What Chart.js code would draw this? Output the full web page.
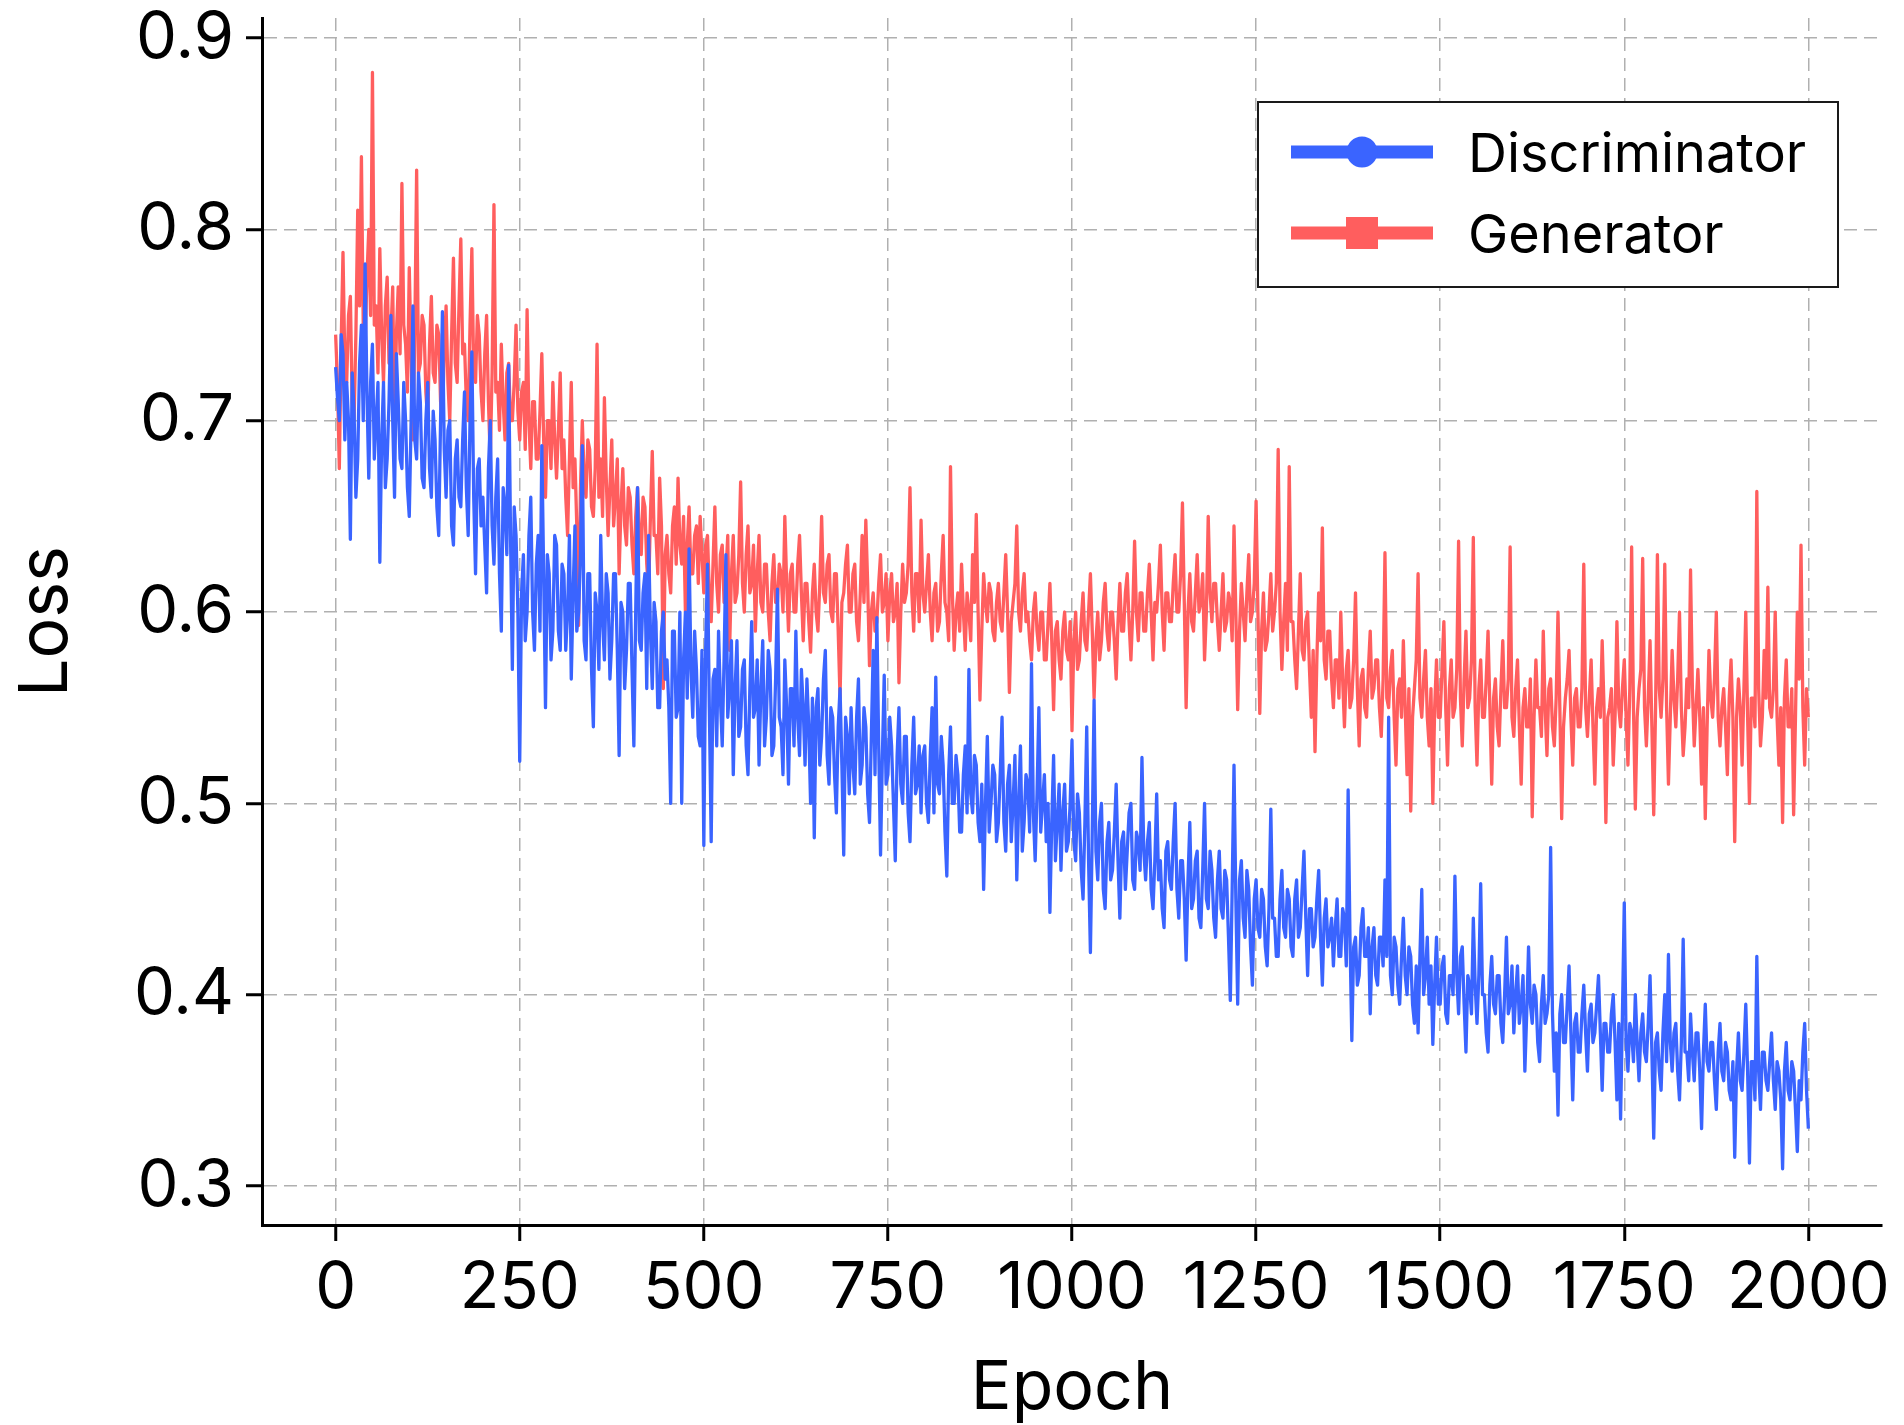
<!DOCTYPE html>
<html>
<head>
<meta charset="utf-8">
<title>Loss</title>
<script src="https://cdn.jsdelivr.net/npm/chart.js@4.4.1/dist/chart.umd.min.js"></script>
<style>
	html, body { margin: 0; padding: 0; background: #fff; }
	#wrap { width: 1904px; height: 1425px; }
</style>
</head>
<body>
<div id="wrap"><canvas id="lossChart" width="1904" height="1425"></canvas></div>
<script>
const epochStep = 2.5;

const discLoss = [
	0.728,0.712, 0.70,0.745, 0.735,0.69, 0.72,0.70, 0.638,0.725, 0.705,0.66, 0.68,0.73, 0.75,0.70, 0.782,0.715, 0.67,0.72,
	0.74,0.68, 0.70,0.72, 0.626,0.69, 0.72,0.665, 0.68,0.71, 0.755,0.70, 0.66,0.735, 0.71,0.68, 0.675,0.72, 0.70,0.665,
	0.65,0.70, 0.76,0.69, 0.68,0.725, 0.71,0.67, 0.665,0.70, 0.72,0.675, 0.66,0.705, 0.69,0.655, 0.64,0.70, 0.757,0.685,
	0.66,0.695, 0.70,0.645, 0.635,0.68, 0.69,0.66, 0.655,0.69, 0.715,0.665, 0.64,0.70, 0.736,0.66, 0.62,0.675, 0.68,0.645,
	0.66,0.635, 0.61,0.675, 0.70,0.645, 0.625,0.66, 0.68,0.62, 0.59,0.665, 0.655,0.63, 0.729,0.64, 0.57,0.655, 0.64,0.60,
	0.522,0.61, 0.63,0.585, 0.60,0.64, 0.66,0.60, 0.58,0.625, 0.64,0.59, 0.687,0.62, 0.55,0.63, 0.62,0.575, 0.59,0.64,
	0.635,0.59, 0.58,0.625, 0.62,0.58, 0.60,0.64, 0.565,0.61, 0.645,0.59, 0.60,0.63, 0.687,0.585, 0.575,0.62, 0.62,0.57,
	0.54,0.61, 0.60,0.57, 0.64,0.595, 0.575,0.62, 0.61,0.565, 0.585,0.62, 0.62,0.58, 0.525,0.605, 0.60,0.56, 0.58,0.615,
	0.615,0.57, 0.53,0.60, 0.665,0.585, 0.58,0.61, 0.62,0.56, 0.64,0.59, 0.56,0.605, 0.595,0.55, 0.55,0.59, 0.60,0.565,
	0.575,0.55, 0.50,0.59, 0.59,0.545, 0.55,0.60, 0.50,0.575, 0.60,0.555, 0.633,0.57, 0.545,0.59, 0.57,0.535, 0.53,0.58,
	0.478,0.58, 0.625,0.55, 0.48,0.565, 0.57,0.53, 0.59,0.555, 0.53,0.575, 0.63,0.545, 0.56,0.585, 0.515,0.56, 0.585,0.535,
	0.54,0.57, 0.575,0.53, 0.515,0.56, 0.595,0.545, 0.55,0.575, 0.52,0.56, 0.585,0.53, 0.545,0.58, 0.57,0.525, 0.53,0.565,
	0.612,0.545, 0.54,0.515, 0.575,0.55, 0.51,0.56, 0.56,0.53, 0.59,0.545, 0.525,0.57, 0.55,0.52, 0.565,0.54, 0.50,0.555,
	0.482,0.55, 0.56,0.52, 0.535,0.565, 0.58,0.525, 0.51,0.55, 0.545,0.515, 0.495,0.54, 0.56,0.52, 0.473,0.545, 0.535,0.505,
	0.55,0.52, 0.505,0.545, 0.565,0.51, 0.52,0.55, 0.54,0.505, 0.49,0.535, 0.58,0.515, 0.597,0.53, 0.473,0.525, 0.567,0.51,
	0.515,0.545, 0.53,0.50, 0.47,0.525, 0.55,0.51, 0.50,0.535, 0.535,0.495, 0.48,0.52, 0.545,0.505, 0.51,0.53, 0.495,0.525,
	0.53,0.50, 0.49,0.525, 0.55,0.495, 0.566,0.51, 0.505,0.535, 0.52,0.485, 0.462,0.515, 0.54,0.50, 0.50,0.525, 0.515,0.485,
	0.485,0.515, 0.53,0.495, 0.57,0.505, 0.495,0.525, 0.52,0.49, 0.48,0.51, 0.455,0.50, 0.535,0.485, 0.50,0.52, 0.515,0.48,
	0.49,0.515, 0.545,0.49, 0.475,0.51, 0.52,0.48, 0.50,0.525, 0.46,0.50, 0.53,0.475, 0.49,0.515, 0.51,0.485, 0.573,0.495,
	0.47,0.505, 0.55,0.485, 0.50,0.515, 0.48,0.50, 0.443,0.49, 0.525,0.47, 0.49,0.51, 0.465,0.495, 0.51,0.475, 0.48,0.50,
	0.533,0.48, 0.47,0.505, 0.495,0.465, 0.45,0.49, 0.54,0.47, 0.422,0.485, 0.554,0.475, 0.46,0.49, 0.50,0.455, 0.445,0.48,
	0.49,0.46, 0.465,0.485, 0.51,0.47, 0.44,0.48, 0.485,0.455, 0.475,0.495, 0.50,0.46, 0.455,0.485, 0.48,0.465, 0.524,0.475,
	0.46,0.48, 0.49,0.455, 0.445,0.47, 0.505,0.46, 0.47,0.445, 0.435,0.475, 0.48,0.46, 0.455,0.48, 0.50,0.455, 0.44,0.47,
	0.47,0.45, 0.418,0.46, 0.49,0.445, 0.45,0.47, 0.475,0.44, 0.435,0.465, 0.50,0.45, 0.445,0.475, 0.465,0.44, 0.43,0.46,
	0.475,0.445, 0.44,0.465, 0.46,0.43, 0.397,0.455, 0.52,0.45, 0.395,0.46, 0.47,0.44, 0.43,0.465, 0.455,0.425, 0.405,0.45,
	0.46,0.435, 0.43,0.455, 0.45,0.425, 0.415,0.445, 0.497,0.44, 0.44,0.42, 0.42,0.45, 0.465,0.435, 0.43,0.455, 0.45,0.425,
	0.42,0.45, 0.46,0.43, 0.435,0.455, 0.475,0.44, 0.41,0.445, 0.445,0.425, 0.43,0.45, 0.465,0.43, 0.405,0.44, 0.45,0.425,
	0.43,0.44, 0.415,0.435, 0.45,0.42, 0.42,0.445, 0.44,0.415, 0.507,0.43, 0.376,0.425, 0.43,0.405, 0.41,0.435, 0.445,0.42,
	0.42,0.435, 0.39,0.425, 0.435,0.41, 0.405,0.43, 0.43,0.415, 0.46,0.42, 0.545,0.41, 0.40,0.43, 0.425,0.405, 0.395,0.42,
	0.44,0.41, 0.40,0.425, 0.42,0.395, 0.385,0.415, 0.38,0.42, 0.455,0.40, 0.41,0.43, 0.395,0.415, 0.374,0.405, 0.43,0.395,
	0.395,0.415, 0.42,0.39, 0.385,0.41, 0.41,0.40, 0.462,0.41, 0.39,0.42, 0.425,0.395, 0.37,0.41, 0.405,0.39, 0.44,0.405,
	0.385,0.41, 0.458,0.40, 0.40,0.38, 0.37,0.405, 0.42,0.395, 0.39,0.41, 0.41,0.385, 0.375,0.40, 0.43,0.39, 0.395,0.415,
	0.38,0.40, 0.415,0.385, 0.395,0.41, 0.36,0.39, 0.425,0.395, 0.385,0.405, 0.40,0.375, 0.365,0.395, 0.41,0.385, 0.39,0.40,
	0.477,0.39, 0.36,0.38, 0.337,0.39, 0.40,0.375, 0.375,0.395, 0.415,0.38, 0.345,0.385, 0.39,0.37, 0.37,0.39, 0.405,0.38,
	0.36,0.39, 0.395,0.375, 0.38,0.395, 0.41,0.38, 0.35,0.385, 0.385,0.37, 0.37,0.39, 0.40,0.375, 0.345,0.385, 0.335,0.39,
	0.448,0.375, 0.36,0.385, 0.38,0.365, 0.40,0.375, 0.355,0.38, 0.39,0.37, 0.365,0.385, 0.41,0.37, 0.325,0.375, 0.38,0.36,
	0.35,0.38, 0.40,0.365, 0.421,0.375, 0.36,0.38, 0.385,0.36, 0.345,0.375, 0.429,0.37, 0.37,0.355, 0.39,0.37, 0.355,0.38,
	0.38,0.36, 0.33,0.37, 0.395,0.365, 0.36,0.375, 0.375,0.355, 0.34,0.37, 0.385,0.36, 0.355,0.375, 0.37,0.35, 0.345,0.365,
	0.315,0.36, 0.38,0.355, 0.35,0.37, 0.395,0.36, 0.312,0.365, 0.365,0.345, 0.42,0.36, 0.34,0.37, 0.37,0.355, 0.35,0.365,
	0.38,0.355, 0.34,0.365, 0.36,0.345, 0.309,0.36, 0.375,0.35, 0.345,0.365, 0.36,0.34, 0.318,0.355, 0.345,0.37, 0.385,0.35,
	0.33
];

const genLoss = [
	0.745,0.72, 0.675,0.74, 0.788,0.73, 0.72,0.755, 0.765,0.71, 0.70,0.745, 0.81,0.76, 0.838,0.75, 0.74,0.775, 0.80,0.755,
	0.882,0.75, 0.76,0.725, 0.79,0.745, 0.72,0.76, 0.775,0.73, 0.745,0.77, 0.70,0.745, 0.77,0.735, 0.824,0.75, 0.74,0.715,
	0.78,0.735, 0.69,0.745, 0.831,0.725, 0.73,0.755, 0.75,0.715, 0.70,0.74, 0.765,0.725, 0.72,0.75, 0.745,0.71, 0.70,0.735,
	0.76,0.72, 0.70,0.745, 0.785,0.73, 0.72,0.76, 0.795,0.735, 0.74,0.71, 0.70,0.75, 0.79,0.725, 0.72,0.755, 0.745,0.715,
	0.70,0.735, 0.755,0.71, 0.68,0.725, 0.813,0.715, 0.72,0.695, 0.74,0.71, 0.69,0.725, 0.73,0.70, 0.70,0.72, 0.75,0.705,
	0.69,0.715, 0.72,0.685, 0.758,0.70, 0.675,0.71, 0.71,0.68, 0.68,0.705, 0.735,0.69, 0.66,0.70, 0.70,0.675, 0.72,0.69,
	0.67,0.695, 0.725,0.675, 0.69,0.66, 0.64,0.68, 0.72,0.665, 0.68,0.645, 0.593,0.665, 0.70,0.67, 0.66,0.69, 0.685,0.655,
	0.65,0.675, 0.74,0.66, 0.68,0.65, 0.712,0.67, 0.64,0.665, 0.69,0.645, 0.66,0.68, 0.62,0.655, 0.675,0.645, 0.635,0.665,
	0.66,0.635, 0.62,0.65, 0.665,0.64, 0.63,0.66, 0.655,0.625, 0.61,0.65, 0.684,0.64, 0.64,0.62, 0.67,0.645, 0.56,0.63,
	0.64,0.62, 0.61,0.645, 0.655,0.625, 0.67,0.635, 0.625,0.65, 0.60,0.635, 0.655,0.62, 0.62,0.64, 0.645,0.615, 0.65,0.63,
	0.61,0.635, 0.64,0.61, 0.595,0.625, 0.655,0.615, 0.60,0.63, 0.635,0.605, 0.62,0.64, 0.58,0.62, 0.64,0.605, 0.61,0.63,
	0.668,0.615, 0.60,0.63, 0.645,0.61, 0.615,0.635, 0.59,0.62, 0.64,0.605, 0.60,0.625, 0.625,0.60, 0.585,0.615, 0.63,0.605,
	0.605,0.625, 0.62,0.60, 0.65,0.615, 0.59,0.62, 0.625,0.60, 0.60,0.625, 0.64,0.61, 0.585,0.615, 0.615,0.595, 0.579,0.61,
	0.625,0.60, 0.59,0.615, 0.65,0.61, 0.605,0.625, 0.63,0.60, 0.595,0.62, 0.62,0.59, 0.555,0.605, 0.61,0.625, 0.635,0.60,
	0.60,0.62, 0.625,0.595, 0.585,0.61, 0.64,0.605, 0.648,0.615, 0.572,0.60, 0.61,0.59, 0.595,0.615, 0.63,0.60, 0.605,0.62,
	0.585,0.61, 0.62,0.595, 0.60,0.615, 0.563,0.60, 0.625,0.605, 0.61,0.625, 0.665,0.61, 0.59,0.62, 0.62,0.595, 0.648,0.61,
	0.60,0.615, 0.63,0.60, 0.585,0.61, 0.615,0.59, 0.595,0.62, 0.64,0.605, 0.60,0.585, 0.676,0.61, 0.58,0.60, 0.61,0.59,
	0.625,0.60, 0.58,0.61, 0.60,0.585, 0.63,0.605, 0.651,0.60, 0.554,0.59, 0.62,0.605, 0.595,0.615, 0.61,0.59, 0.585,0.605,
	0.615,0.595, 0.59,0.61, 0.63,0.60, 0.558,0.595, 0.605,0.615, 0.645,0.60, 0.59,0.61, 0.62,0.595, 0.60,0.585, 0.575,0.60,
	0.61,0.59, 0.58,0.60, 0.60,0.575, 0.575,0.595, 0.615,0.585, 0.549,0.59, 0.595,0.575, 0.565,0.59, 0.60,0.58, 0.575,0.595,
	0.538,0.585, 0.60,0.57, 0.575,0.595, 0.61,0.585, 0.58,0.60, 0.62,0.59, 0.555,0.585, 0.60,0.575, 0.585,0.605, 0.615,0.59,
	0.58,0.60, 0.60,0.585, 0.565,0.595, 0.615,0.59, 0.59,0.61, 0.62,0.595, 0.575,0.60, 0.637,0.60, 0.585,0.61, 0.61,0.59,
	0.59,0.61, 0.625,0.60, 0.575,0.605, 0.60,0.615, 0.635,0.60, 0.58,0.61, 0.61,0.595, 0.595,0.615, 0.63,0.60, 0.60,0.62,
	0.657,0.605, 0.55,0.60, 0.62,0.595, 0.59,0.61, 0.63,0.60, 0.605,0.62, 0.575,0.60, 0.65,0.61, 0.595,0.615, 0.615,0.595,
	0.58,0.60, 0.62,0.59, 0.595,0.61, 0.605,0.585, 0.645,0.60, 0.549,0.59, 0.615,0.60, 0.585,0.61, 0.63,0.595, 0.60,0.615,
	0.658,0.60, 0.547,0.59, 0.61,0.58, 0.585,0.60, 0.62,0.59, 0.60,0.615, 0.685,0.60, 0.57,0.595, 0.615,0.58, 0.676,0.595,
	0.595,0.575, 0.56,0.59, 0.62,0.58, 0.575,0.595, 0.60,0.57, 0.545,0.58, 0.527,0.575, 0.61,0.585, 0.644,0.575, 0.565,0.59,
	0.59,0.565, 0.55,0.575, 0.575,0.555, 0.60,0.565, 0.54,0.57, 0.58,0.55, 0.555,0.575, 0.61,0.56, 0.53,0.565, 0.57,0.55,
	0.545,0.57, 0.59,0.555, 0.56,0.575, 0.575,0.55, 0.535,0.565, 0.631,0.555, 0.55,0.57, 0.58,0.545, 0.52,0.56, 0.565,0.545,
	0.585,0.55, 0.515,0.56, 0.496,0.545, 0.56,0.575, 0.62,0.555, 0.545,0.565, 0.58,0.545, 0.53,0.56, 0.50,0.55, 0.575,0.545,
	0.545,0.57, 0.595,0.55, 0.52,0.56, 0.575,0.545, 0.55,0.57, 0.637,0.555, 0.53,0.565, 0.59,0.55, 0.555,0.575, 0.639,0.55,
	0.52,0.56, 0.575,0.545, 0.545,0.565, 0.59,0.55, 0.51,0.555, 0.565,0.54, 0.53,0.56, 0.585,0.55, 0.55,0.565, 0.634,0.545,
	0.535,0.56, 0.575,0.54, 0.51,0.55, 0.56,0.54, 0.54,0.565, 0.493,0.545, 0.575,0.55, 0.55,0.535, 0.59,0.55, 0.525,0.56,
	0.565,0.54, 0.53,0.555, 0.60,0.55, 0.492,0.54, 0.555,0.565, 0.58,0.545, 0.52,0.555, 0.56,0.54, 0.54,0.56, 0.625,0.55,
	0.535,0.555, 0.575,0.54, 0.51,0.55, 0.56,0.545, 0.585,0.55, 0.49,0.545, 0.55,0.56, 0.52,0.545, 0.595,0.55, 0.54,0.56,
	0.575,0.545, 0.52,0.56, 0.634,0.55, 0.497,0.545, 0.56,0.57, 0.628,0.55, 0.53,0.555, 0.585,0.54, 0.494,0.55, 0.63,0.56,
	0.545,0.565, 0.625,0.55, 0.51,0.545, 0.58,0.555, 0.54,0.565, 0.60,0.55, 0.525,0.54, 0.565,0.55, 0.622,0.56, 0.53,0.55,
	0.57,0.545, 0.51,0.55, 0.492,0.54, 0.58,0.555, 0.545,0.565, 0.60,0.545, 0.53,0.55, 0.56,0.54, 0.515,0.555, 0.575,0.545,
	0.48,0.545, 0.565,0.55, 0.52,0.56, 0.60,0.545, 0.50,0.555, 0.555,0.54, 0.663,0.56, 0.53,0.545, 0.58,0.555, 0.613,0.55,
	0.545,0.56, 0.60,0.545, 0.52,0.55, 0.49,0.555, 0.575,0.54, 0.54,0.56, 0.494,0.545, 0.60,0.565, 0.635,0.55, 0.52,0.56,
	0.545
];

const xTicks = [0, 250, 500, 750, 1000, 1250, 1500, 1750, 2000];
const yTicks = [0.3, 0.4, 0.5, 0.6, 0.7, 0.8, 0.9];

const blue = '#3a64ff';
const red = '#ff5e5e';
const fontFamily = 'Inter, "Noto Sans", sans-serif';

function toPoints(values) {
	return values.map(function(v, i) { return {x: i * epochStep, y: v}; });
}

// legend drawn by hand: thick line + marker, framed box top right
const legendBox = {
	id: 'legendBox',
	afterDraw: function(chart) {
		const ctx = chart.ctx;
		const ca = chart.chartArea;
		const x0 = ca.right - 624, y0 = ca.top + 84, w = 580, h = 185;
		ctx.save();
		ctx.fillStyle = '#fff';
		ctx.fillRect(x0, y0, w, h);
		ctx.lineWidth = 2;
		ctx.strokeStyle = '#1a1a1a';
		ctx.strokeRect(x0, y0, w, h);
		chart.data.datasets.forEach(function(ds, i) {
			const cy = y0 + 50 + i * 81;
			ctx.strokeStyle = ds.borderColor;
			ctx.lineWidth = 13;
			ctx.lineCap = 'butt';
			ctx.beginPath();
			ctx.moveTo(x0 + 33, cy);
			ctx.lineTo(x0 + 175, cy);
			ctx.stroke();
			ctx.fillStyle = ds.borderColor;
			if (ds.marker === 'circle') {
				ctx.beginPath();
				ctx.arc(x0 + 104, cy, 15.5, 0, Math.PI * 2);
				ctx.fill();
			} else {
				ctx.fillRect(x0 + 104 - 16, cy - 16, 32, 32);
			}
			ctx.fillStyle = '#000';
			ctx.font = '54px ' + fontFamily;
			ctx.textAlign = 'left';
			ctx.textBaseline = 'alphabetic';
			ctx.fillText(ds.label, x0 + 210, cy + 20);
		});
		ctx.restore();
	}
};

const ctx = document.getElementById('lossChart').getContext('2d');
const chart = new Chart(ctx, {
	type: 'line',
	data: {
		datasets: [{
			label: 'Discriminator',
			marker: 'circle',
			data: toPoints(discLoss),
			borderColor: blue,
			backgroundColor: blue
		}, {
			label: 'Generator',
			marker: 'square',
			data: toPoints(genLoss),
			borderColor: red,
			backgroundColor: red
		}]
	},
	options: {
		responsive: false,
		animation: false,
		devicePixelRatio: 1,
		layout: { padding: { left: 0, right: 22, top: 18, bottom: 0 } },
		plugins: {
			legend: { display: false },
			tooltip: { enabled: false }
		},
		elements: {
			point: { radius: 0 },
			line: { tension: 0, borderWidth: 3.3, borderJoinStyle: 'round', fill: false }
		},
		scales: {
			x: {
				type: 'linear',
				min: -100,
				max: 2100,
				afterBuildTicks: function(axis) { axis.ticks = xTicks.map(function(v) { return {value: v}; }); },
				afterFit: function(axis) {
					axis.height = 200;
					axis.paddingLeft = 0;
					axis.paddingRight = 0;
				},
				grid: { color: '#b0b0b0', lineWidth: 1.5, tickLength: 16, tickColor: '#000', tickWidth: 3 },
				border: { color: '#000', width: 3, dash: [13, 7] },
				ticks: {
					font: { family: fontFamily, size: 65 },
					color: '#000',
					padding: 8,
					maxRotation: 0,
					autoSkip: false,
					callback: function(v) { return String(v); }
				},
				title: {
					display: true,
					text: 'Epoch',
					font: { family: fontFamily, size: 68, lineHeight: 1 },
					color: '#000',
					padding: { top: 0, bottom: 2 }
				}
			},
			y: {
				type: 'linear',
				min: 0.2796,
				max: 0.9105,
				afterBuildTicks: function(axis) { axis.ticks = yTicks.map(function(v) { return {value: v}; }); },
				afterFit: function(axis) {
					axis.width = 262;
					axis.paddingTop = 0;
					axis.paddingBottom = 0;
				},
				grid: { color: '#b0b0b0', lineWidth: 1.5, tickLength: 16, tickColor: '#000', tickWidth: 3 },
				border: { color: '#000', width: 3, dash: [13, 7] },
				ticks: {
					font: { family: fontFamily, size: 65 },
					color: '#000',
					padding: 12,
					callback: function(v) { return v.toFixed(1); }
				},
				title: {
					display: true,
					text: 'Loss',
					font: { family: fontFamily, size: 68, lineHeight: 1 },
					color: '#000',
					padding: { top: 13, bottom: 0 }
				}
			}
		}
	},
	plugins: [legendBox]
});
</script>
</body>
</html>
